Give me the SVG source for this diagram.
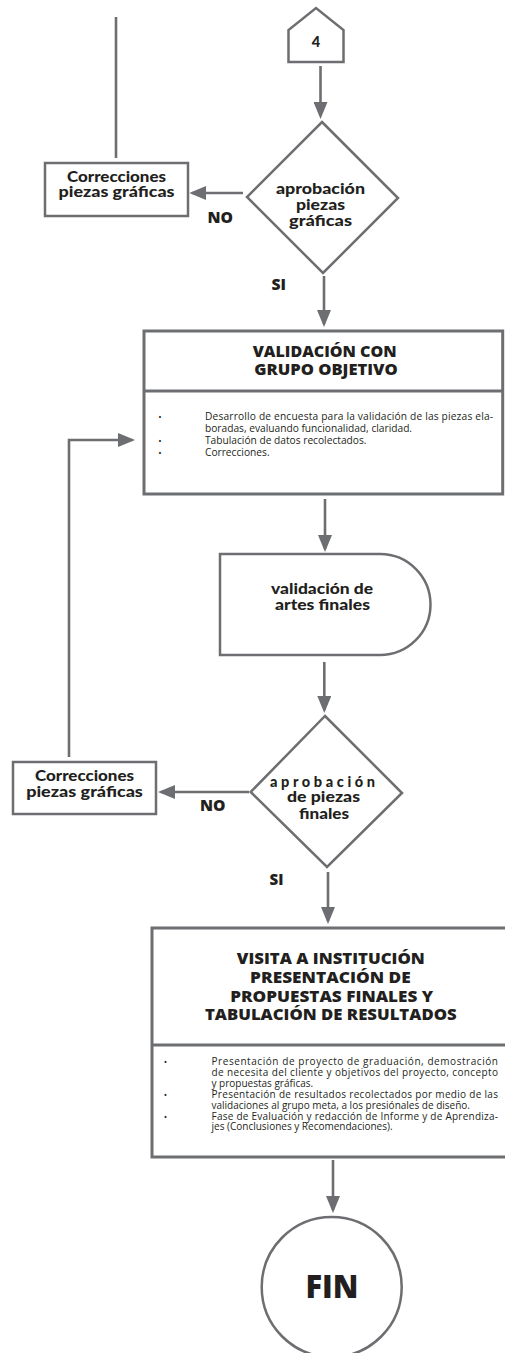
<svg xmlns="http://www.w3.org/2000/svg" width="505" height="1353" viewBox="0 0 505 1353">
<defs>
<marker id="ah" viewBox="0 0 17 14" refX="14" refY="7" markerWidth="17" markerHeight="14" markerUnits="userSpaceOnUse" orient="auto">
<path d="M0,0 L17,7 L0,14 z" fill="#6d6e71"/>
</marker>
<style>
.bg{fill:#ffffff}
.shape{fill:#ffffff;stroke:#6d6e71;stroke-width:2.5}
.box{fill:#ffffff;stroke:#6d6e71;stroke-width:3}
.conn{fill:none;stroke:#6d6e71;stroke-width:2.6}
.geo{font-family:Lato,"Noto Sans",sans-serif;font-weight:900;font-size:14.5px;fill:#231f20;text-anchor:middle}
.title{font-family:"Open Sans","Liberation Sans",sans-serif;font-weight:800;font-size:16px;fill:#231f20;text-anchor:middle}
.body{font-family:"Open Sans","Liberation Sans",sans-serif;fill:#231f20}
.yn{font-family:"Open Sans","Liberation Sans",sans-serif;font-weight:800;font-size:16.5px;fill:#231f20}
.fin{font-family:"Open Sans","Liberation Sans",sans-serif;font-weight:800;font-size:31px;fill:#231f20;text-anchor:middle}
</style>
</defs>
<rect class="bg" x="0" y="0" width="505" height="1353"/>

<g id="connectors">
<path class="conn" d="M116,17 V158"/>
<path class="conn" d="M320.5,66 V116" marker-end="url(#ah)"/>
<path class="conn" d="M243,193 H192.3" marker-end="url(#ah)"/>
<path class="conn" d="M324,276 V324" marker-end="url(#ah)"/>
<path class="conn" d="M325,499 V549" marker-end="url(#ah)"/>
<path class="conn" d="M324.3,662 V710" marker-end="url(#ah)"/>
<path class="conn" d="M249,792 H161" marker-end="url(#ah)"/>
<path class="conn" d="M69,757 V440 H132" marker-end="url(#ah)"/>
<path class="conn" d="M328,872 V921" marker-end="url(#ah)"/>
<path class="conn" d="M333,1160 V1210" marker-end="url(#ah)"/>
<text class="yn" x="207.5" y="222.5" textLength="25.5" lengthAdjust="spacingAndGlyphs">NO</text>
<text class="yn" x="271.5" y="290" textLength="14.5" lengthAdjust="spacingAndGlyphs">SI</text>
<text class="yn" x="200" y="811" textLength="25.5" lengthAdjust="spacingAndGlyphs">NO</text>
<text class="yn" x="269.5" y="885" textLength="14" lengthAdjust="spacingAndGlyphs">SI</text>
</g>

<g id="connector-4">
<polygon class="shape" points="288.5,62 288.5,30 316,8 343.5,30 343.5,62"/>
<text class="geo" x="316" y="46.7" font-size="15">4</text>
</g>

<g id="decision-aprobacion-piezas-graficas">
<polygon class="shape" points="322,122 398,198 323,273 247,197"/>
<text class="geo" x="320.5" y="194.3" textLength="89" lengthAdjust="spacingAndGlyphs">aprobación</text>
<text class="geo" x="320.5" y="209.5" textLength="49" lengthAdjust="spacingAndGlyphs">piezas</text>
<text class="geo" x="320.5" y="225.5" textLength="63" lengthAdjust="spacingAndGlyphs">gráficas</text>
</g>

<g id="correcciones-1">
<rect class="shape" x="45" y="163" width="143" height="53"/>
<text class="geo" x="116.5" y="181.7" textLength="99" lengthAdjust="spacingAndGlyphs">Correcciones</text>
<text class="geo" x="116.5" y="197.3" textLength="116" lengthAdjust="spacingAndGlyphs">piezas gráficas</text>
</g>

<g id="validacion-grupo-objetivo">
<rect class="box" x="144" y="331" width="358.7" height="163"/>
<line x1="144" y1="391" x2="502.7" y2="391" stroke="#6d6e71" stroke-width="3"/>
<text class="title" x="324.7" y="356.5" textLength="144" lengthAdjust="spacingAndGlyphs">VALIDACIÓN CON</text>
<text class="title" x="326" y="374.5" textLength="143.7" lengthAdjust="spacingAndGlyphs">GRUPO OBJETIVO</text>
<g class="body" font-size="10.2">
<text x="158.3" y="420" font-size="9">•</text>
<text x="158.3" y="444" font-size="9">•</text>
<text x="158.3" y="456" font-size="9">•</text>
<text x="205" y="420.3" textLength="288">Desarrollo de encuesta para la validación de las piezas ela-</text>
<text x="205" y="432.3">boradas, evaluando funcionalidad, claridad.</text>
<text x="205" y="444.3">Tabulación de datos recolectados.</text>
<text x="205" y="456.3">Correcciones.</text>
</g>
</g>

<g id="validacion-artes-finales">
<path class="shape" d="M220,554 H380 A50.5,50.5 0 0 1 380,655 H220 Z"/>
<text class="geo" x="322" y="594.3" textLength="102" lengthAdjust="spacingAndGlyphs">validación de</text>
<text class="geo" x="322.5" y="610" textLength="95" lengthAdjust="spacingAndGlyphs">artes finales</text>
</g>

<g id="decision-aprobacion-piezas-finales">
<polygon class="shape" points="325,716 402,793 327,867 250.7,792"/>
<text class="geo" x="324" y="787.3" textLength="108" letter-spacing="3">aprobación</text>
<text class="geo" x="323.5" y="802" textLength="73" lengthAdjust="spacingAndGlyphs">de piezas</text>
<text class="geo" x="324" y="818.5" textLength="50" lengthAdjust="spacingAndGlyphs">finales</text>
</g>

<g id="correcciones-2">
<rect class="shape" x="13" y="762" width="143" height="52"/>
<text class="geo" x="84.5" y="781" textLength="99" lengthAdjust="spacingAndGlyphs">Correcciones</text>
<text class="geo" x="84.5" y="796.7" textLength="116.7" lengthAdjust="spacingAndGlyphs">piezas gráficas</text>
</g>

<g id="visita-institucion">
<rect class="box" x="152" y="928" width="356" height="229"/>
<line x1="152" y1="1045" x2="508" y2="1045" stroke="#6d6e71" stroke-width="3"/>
<text class="title" x="330.8" y="964" textLength="188" lengthAdjust="spacingAndGlyphs">VISITA A INSTITUCIÓN</text>
<text class="title" x="330.4" y="983" textLength="160.7" lengthAdjust="spacingAndGlyphs">PRESENTACIÓN DE</text>
<text class="title" x="331.7" y="1001.7" textLength="203" lengthAdjust="spacingAndGlyphs">PROPUESTAS FINALES Y</text>
<text class="title" x="330.8" y="1020" textLength="251.7" lengthAdjust="spacingAndGlyphs">TABULACIÓN DE RESULTADOS</text>
<g class="body" font-size="10">
<text x="163.8" y="1065" font-size="9">•</text>
<text x="163.8" y="1097.7" font-size="9">•</text>
<text x="163.8" y="1119.5" font-size="9">•</text>
<text x="211.5" y="1065" textLength="286.5">Presentación de proyecto de graduación, demostración</text>
<text x="211.5" y="1075.9" textLength="286.5">de necesita del cliente y objetivos del proyecto, concepto</text>
<text x="211.5" y="1086.8">y propuestas gráficas.</text>
<text x="211.5" y="1097.7" textLength="286.5">Presentación de resultados recolectados por medio de las</text>
<text x="211.5" y="1108.6">validaciones al grupo meta, a los presiónales de diseño.</text>
<text x="211.5" y="1119.5" textLength="286.5">Fase de Evaluación y redacción de Informe y de Aprendiza-</text>
<text x="211.5" y="1130.4">jes (Conclusiones y Recomendaciones).</text>
</g>
</g>

<g id="fin">
<circle class="shape" cx="331.7" cy="1287" r="70"/>
<text class="fin" x="332" y="1298" textLength="53" lengthAdjust="spacingAndGlyphs">FIN</text>
</g>
</svg>
